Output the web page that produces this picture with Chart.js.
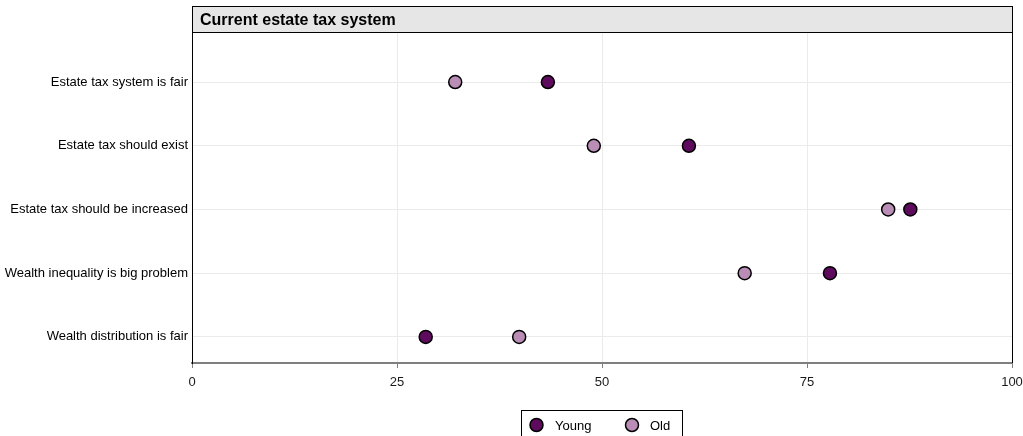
<!DOCTYPE html>
<html>
<head>
<meta charset="utf-8">
<script src="https://cdn.jsdelivr.net/npm/chart.js@4/dist/chart.umd.min.js"></script>
<style>
  html, body { margin: 0; padding: 0; background: #ffffff; }
  #wrap { width: 1023px; height: 436px; position: relative; }
</style>
</head>
<body>
<div id="wrap"><canvas id="c"></canvas></div>
<script>
const categories = [
  "Estate tax system is fair",
  "Estate tax should exist",
  "Estate tax should be increased",
  "Wealth inequality is big problem",
  "Wealth distribution is fair"
];
const youngValues = [43.4, 60.6, 87.6, 77.8, 28.5];
const oldValues = [32.1, 49.0, 84.9, 67.4, 39.9];
const xTicks = [0, 25, 50, 75, 100];
const seriesNames = ["Young", "Old"];
const titleText = "Current estate tax system";

const youngColor = "#5e0b5e";
const oldColor = "#b98db6";
const nCat = categories.length;
const FONT = "'Liberation Sans', Arial, sans-serif";

function toPoints(vals) {
  return vals.map((v, i) => ({ x: v, y: nCat - i }));
}

const decorPlugin = {
  id: "decor",
  afterDraw(chart) {
    const ctx = chart.ctx;
    const a = chart.chartArea;
    ctx.save();
    ctx.strokeStyle = "#000000";
    ctx.lineWidth = 1;
    ctx.beginPath();
    ctx.moveTo(a.right + 0.5, 6);
    ctx.lineTo(a.right + 0.5, a.bottom);
    ctx.stroke();
    ctx.fillStyle = "#e6e6e6";
    ctx.fillRect(a.left, 6, a.right - a.left, 26);
    ctx.strokeRect(a.left + 0.5, 6.5, a.right - a.left, 26);
    ctx.fillStyle = "#000000";
    ctx.font = "bold 16px " + FONT;
    ctx.textBaseline = "middle";
    ctx.textAlign = "left";
    ctx.fillText(titleText, a.left + 8, 21);
    const lx = 521, ly = 410, lw = 161, lh = 30;
    ctx.fillStyle = "#ffffff";
    ctx.fillRect(lx, ly, lw, lh);
    ctx.strokeStyle = "#000000";
    ctx.lineWidth = 1;
    ctx.strokeRect(lx + 0.5, ly + 0.5, lw, lh);
    const items = [
      { name: seriesNames[0], color: youngColor, cx: 536.5, tx: 555 },
      { name: seriesNames[1], color: oldColor, cx: 632, tx: 650 }
    ];
    ctx.font = "13px " + FONT;
    items.forEach(it => {
      ctx.beginPath();
      ctx.arc(it.cx, 425, 6.5, 0, Math.PI * 2);
      ctx.fillStyle = it.color;
      ctx.fill();
      ctx.lineWidth = 1.5;
      ctx.strokeStyle = "#000000";
      ctx.stroke();
      ctx.fillStyle = "#000000";
      ctx.textBaseline = "middle";
      ctx.fillText(it.name, it.tx, 426);
    });
    ctx.restore();
  }
};

new Chart(document.getElementById("c"), {
  type: "scatter",
  data: {
    datasets: [
      {
        label: seriesNames[1],
        data: toPoints(oldValues),
        backgroundColor: oldColor,
        borderColor: "#000000",
        borderWidth: 1.5,
        pointRadius: 6.5,
        pointHoverRadius: 6.5
      },
      {
        label: seriesNames[0],
        data: toPoints(youngValues),
        backgroundColor: youngColor,
        borderColor: "#000000",
        borderWidth: 1.5,
        pointRadius: 6.5,
        pointHoverRadius: 6.5
      }
    ]
  },
  options: {
    responsive: true,
    maintainAspectRatio: false,
    animation: false,
    layout: { padding: { left: 0, right: 11, top: 33, bottom: 33 } },
    plugins: {
      legend: { display: false },
      tooltip: { enabled: false },
      title: { display: false }
    },
    scales: {
      x: {
        type: "linear",
        min: 0,
        max: 100,
        afterBuildTicks(scale) { scale.ticks = xTicks.map(v => ({ value: v })); },
        afterFit(scale) {
          scale.height = 40;
          scale.paddingLeft = 0;
          scale.paddingRight = 0;
        },
        grid: {
          color: "#ebebeb",
          lineWidth: 1,
          drawTicks: true,
          tickLength: 5,
          tickColor: "#7f7f7f"
        },
        border: { display: true, color: "#7f7f7f", width: 2 },
        ticks: {
          color: "#1a1a1a",
          padding: 7,
          maxRotation: 0,
          font: { family: FONT, size: 13 }
        }
      },
      y: {
        type: "linear",
        min: 0.59,
        max: 5.77,
        afterBuildTicks(scale) {
          scale.ticks = categories.map((c, i) => ({ value: nCat - i }));
        },
        afterFit(scale) {
          scale.width = 192;
          scale.paddingTop = 0;
          scale.paddingBottom = 0;
        },
        grid: { color: "#ebebeb", lineWidth: 1, drawTicks: false },
        border: { display: true, color: "#000000", width: 1 },
        ticks: {
          color: "#000000",
          padding: 4,
          font: { family: FONT, size: 13 },
          callback(value) {
            const idx = nCat - Math.round(value);
            return categories[idx] !== undefined ? categories[idx] : "";
          }
        }
      }
    }
  },
  plugins: [decorPlugin]
});
</script>
</body>
</html>
